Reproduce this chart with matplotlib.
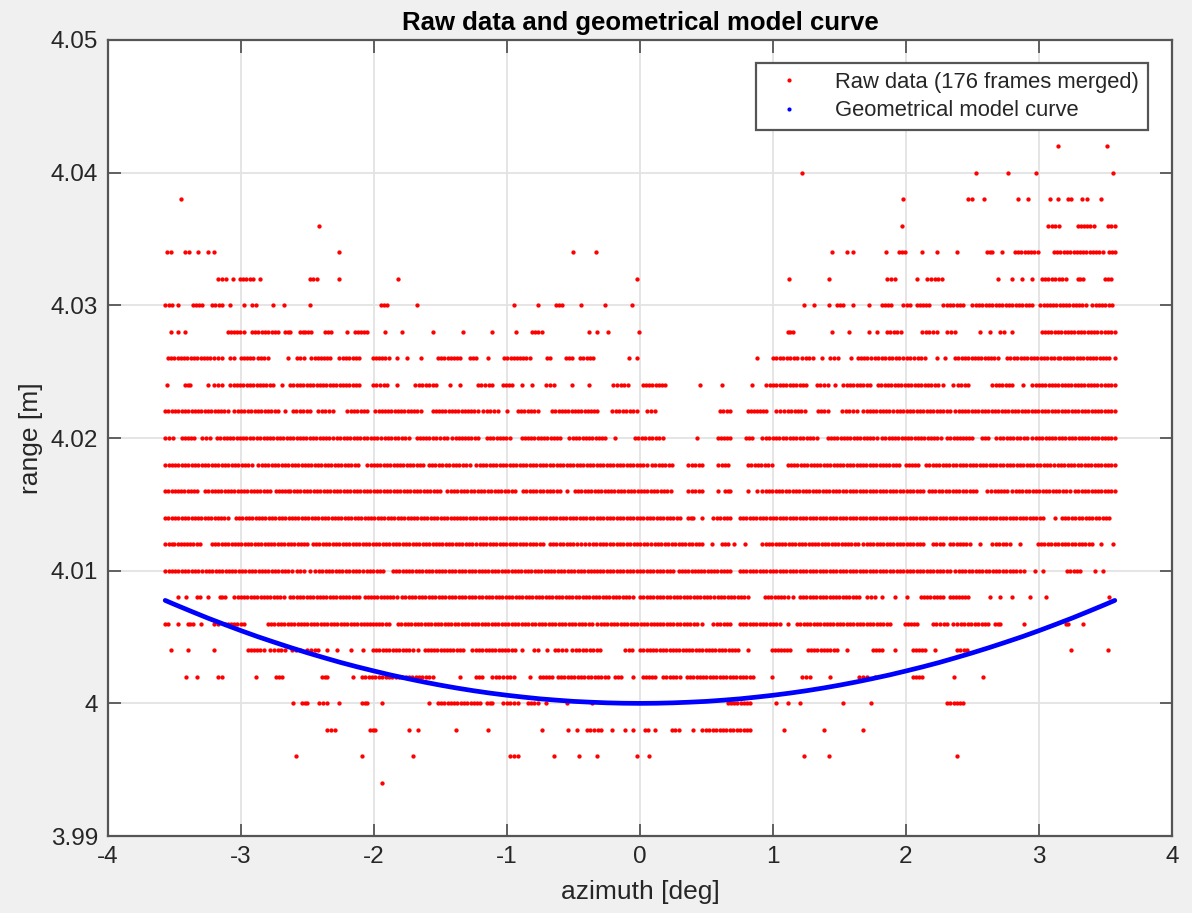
import numpy as np
import matplotlib
matplotlib.use("Agg")
import matplotlib.pyplot as plt
from matplotlib.lines import Line2D
from matplotlib.ticker import FuncFormatter

# range levels of the merged scans [m]
range_levels = [3.994, 3.996, 3.998, 4.000, 4.002, 4.004, 4.006, 4.008, 4.010,
                4.012, 4.014, 4.016, 4.018, 4.020, 4.022, 4.024, 4.026, 4.028,
                4.030, 4.032, 4.034, 4.036, 4.038, 4.040, 4.042]

# azimuth runs [deg] holding returns on each range level; [a, a] is a single return
r3994 = [[-1.94, -1.94]]
r3996 = [[-2.59, -2.59], [-2.09, -2.09], [-1.71, -1.71], [-0.98, -0.92], [-0.65, -0.65],
         [-0.46, -0.46], [-0.32, -0.32], [-0.02, -0.02], [0.07, 0.07], [1.23, 1.23],
         [1.42, 1.42], [2.38, 2.38]]
r3998 = [[-2.35, -2.29], [-2.03, -1.99], [-1.74, -1.74], [-1.67, -1.67], [-1.38, -1.38],
         [-1.14, -1.14], [-0.74, -0.74], [-0.54, -0.54], [-0.47, -0.47], [-0.40, -0.29],
         [-0.21, -0.21], [-0.11, -0.11], [-0.05, -0.05], [0.04, 0.06], [0.11, 0.11],
         [0.24, 0.29], [0.40, 0.40], [0.47, 0.83], [1.08, 1.08], [1.38, 1.38], [1.68, 1.68]]
r4000 = [[-2.61, -2.61], [-2.54, -2.50], [-2.41, -2.35], [-2.26, -2.26], [-2.09, -2.05],
         [-1.94, -1.94], [-1.59, -1.59], [-1.52, -1.20], [-1.15, -1.11], [-1.03, -0.92],
         [-0.84, -0.77], [-0.71, -0.71], [-0.55, -0.55], [-0.36, -0.36], [0.66, 0.83],
         [1.02, 1.02], [1.11, 1.11], [1.20, 1.20], [1.53, 1.53], [1.74, 1.74], [2.31, 2.43]]
r4002 = [[-3.41, -3.41], [-3.33, -3.33], [-3.17, -3.14], [-2.89, -2.89], [-2.74, -2.69],
         [-2.39, -2.35], [-2.16, -2.16], [-2.09, -1.56], [-1.35, -1.35], [-1.23, -1.19],
         [-1.11, -0.95], [-0.83, -0.83], [-0.75, -0.66], [-0.62, -0.24], [-0.19, -0.14],
         [-0.05, -0.05], [0.02, 0.11], [0.17, 0.30], [0.35, 0.85], [0.99, 0.99],
         [1.22, 1.28], [1.43, 1.43], [1.65, 1.71], [1.77, 1.77], [2.05, 2.12],
         [2.36, 2.36], [2.58, 2.58]]
r4004 = [[-3.53, -3.53], [-3.40, -3.40], [-3.20, -3.20], [-2.95, -2.83], [-2.78, -2.67],
         [-2.62, -2.56], [-2.50, -2.42], [-2.35, -2.35], [-2.28, -2.28], [-2.17, -2.17],
         [-2.08, -2.08], [-2.01, -1.71], [-1.67, -1.67], [-1.62, -1.33], [-1.26, -0.94],
         [-0.89, -0.89], [-0.80, -0.77], [-0.70, -0.70], [-0.64, -0.56], [-0.51, -0.30],
         [-0.11, -0.06], [0.00, 0.74], [0.81, 0.81], [0.99, 1.13], [1.26, 1.48],
         [1.56, 1.56], [1.75, 1.82], [1.92, 1.92], [2.05, 2.14], [2.22, 2.22],
         [2.38, 2.46], [3.24, 3.24], [3.52, 3.52]]
r4006 = [[-3.57, -3.55], [-3.47, -3.47], [-3.40, -3.36], [-3.30, -3.30], [-3.20, -3.17],
         [-3.12, -2.98], [-2.80, -2.05], [-2.03, -1.89], [-1.82, -0.36], [-0.32, 0.13],
         [0.15, 0.43], [0.47, 0.47], [0.55, 0.68], [0.75, 1.05], [1.11, 1.11],
         [1.18, 1.88], [1.99, 2.08], [2.20, 2.31], [2.35, 2.41], [2.44, 2.62],
         [2.67, 2.71], [2.89, 2.89], [3.20, 3.22], [3.33, 3.33]]
r4008 = [[-3.47, -3.47], [-3.41, -3.41], [-3.33, -3.31], [-3.25, -3.25], [-3.16, -3.12],
         [-3.05, -2.68], [-2.63, -2.11], [-2.07, -1.83], [-1.79, -0.08], [-0.05, -0.05],
         [0.00, 0.53], [0.56, 0.81], [0.94, 1.11], [1.15, 1.15], [1.20, 1.65],
         [1.71, 1.77], [1.82, 1.82], [1.92, 1.92], [2.01, 2.01], [2.11, 2.28],
         [2.33, 2.47], [2.63, 2.63], [2.71, 2.71], [2.80, 2.80], [2.93, 2.93],
         [3.05, 3.05], [3.53, 3.53]]
r4010 = [[-3.57, -3.32], [-3.29, -2.62], [-2.58, -2.53], [-2.48, -2.48], [-2.44, -2.11],
         [-2.08, -1.93], [-1.86, -0.32], [-0.30, 0.25], [0.29, 0.68], [0.75, 2.33],
         [2.37, 2.83], [2.86, 2.89], [2.97, 2.97], [3.03, 3.03], [3.21, 3.31],
         [3.42, 3.42], [3.48, 3.48]]
r4012 = [[-3.57, -3.52], [-3.50, -3.31], [-3.22, -2.50], [-2.46, -1.26], [-1.23, -0.73],
         [-0.68, -0.50], [-0.47, -0.41], [-0.38, 0.08], [0.11, 0.47], [0.54, 0.54],
         [0.62, 0.66], [0.71, 0.71], [0.79, 0.79], [0.92, 1.64], [1.68, 2.13],
         [2.20, 2.28], [2.33, 2.48], [2.56, 2.56], [2.65, 2.78], [2.86, 2.86],
         [2.99, 3.40], [3.47, 3.47], [3.56, 3.56]]
r4014 = [[-3.57, -3.10], [-3.04, -1.35], [-1.33, 0.30], [0.36, 0.40], [0.47, 0.47],
         [0.55, 0.68], [0.75, 3.03], [3.12, 3.12], [3.17, 3.53]]
r4016 = [[-3.57, -3.33], [-3.27, -2.78], [-2.74, -2.65], [-2.63, -1.50], [-1.45, -0.94],
         [-0.88, -0.60], [-0.55, -0.55], [-0.49, 0.23], [0.36, 0.47], [0.59, 0.59],
         [0.64, 0.68], [0.81, 0.81], [0.88, 0.88], [0.92, 2.13], [2.17, 2.53],
         [2.61, 2.67], [2.69, 2.76], [2.80, 3.23], [3.27, 3.57]]
r4018 = [[-3.57, -2.92], [-2.87, -2.12], [-2.05, -1.63], [-1.59, -1.28], [-1.23, 0.05],
         [0.09, 0.24], [0.36, 0.47], [0.59, 0.66], [0.81, 0.99], [1.11, 1.95],
         [2.00, 2.09], [2.15, 3.11], [3.14, 3.57]]
r4020 = [[-3.57, -3.51], [-3.44, -3.35], [-3.29, -3.23], [-3.18, -2.91], [-2.88, -2.31],
         [-2.28, -1.95], [-1.92, -1.74], [-1.68, -1.56], [-1.53, -1.45], [-1.41, -1.22],
         [-1.15, -0.98], [-0.89, -0.60], [-0.53, -0.26], [-0.19, -0.19], [-0.04, 0.17],
         [0.43, 0.43], [0.59, 0.68], [0.80, 0.84], [0.92, 1.33], [1.41, 1.78],
         [1.82, 2.26], [2.31, 2.50], [2.57, 2.62], [2.68, 2.91], [2.95, 3.57]]
r4022 = [[-3.57, -3.10], [-3.05, -2.72], [-2.67, -2.67], [-2.61, -2.48], [-2.42, -2.31],
         [-2.20, -2.05], [-1.99, -1.65], [-1.56, -1.22], [-1.18, -1.07], [-1.00, -1.00],
         [-0.92, -0.77], [-0.66, -0.32], [-0.21, -0.05], [-0.02, -0.02], [0.05, 0.11],
         [0.60, 0.68], [0.81, 0.95], [1.02, 1.08], [1.11, 1.24], [1.34, 1.41],
         [1.52, 1.63], [1.68, 1.90], [1.93, 2.33], [2.37, 3.57]]
r4024 = [[-3.56, -3.56], [-3.42, -3.38], [-3.25, -3.25], [-3.20, -3.14], [-3.08, -2.76],
         [-2.69, -2.69], [-2.63, -2.11], [-2.01, -1.90], [-1.83, -1.83], [-1.69, -1.53],
         [-1.43, -1.43], [-1.35, -1.35], [-1.22, -1.11], [-1.03, -0.96], [-0.89, -0.89],
         [-0.81, -0.81], [-0.71, -0.65], [-0.51, -0.51], [-0.38, -0.38], [-0.20, -0.09],
         [0.02, 0.19], [0.45, 0.45], [0.62, 0.62], [0.84, 0.84], [0.95, 1.25],
         [1.33, 1.41], [1.47, 1.47], [1.53, 1.73], [1.79, 2.24], [2.28, 2.28],
         [2.35, 2.35], [2.39, 2.47], [2.65, 2.80], [2.88, 2.88], [2.95, 3.44], [3.47, 3.57]]
r4026 = [[-3.55, -3.23], [-3.20, -3.14], [-3.08, -3.05], [-3.00, -2.91], [-2.87, -2.80],
         [-2.65, -2.65], [-2.58, -2.53], [-2.47, -2.33], [-2.26, -2.11], [-2.01, -1.89],
         [-1.83, -1.83], [-1.75, -1.75], [-1.65, -1.65], [-1.52, -1.35], [-1.28, -1.23],
         [-1.14, -1.14], [-1.02, -0.83], [-0.70, -0.68], [-0.56, -0.51], [-0.45, -0.35],
         [-0.08, -0.08], [-0.02, -0.02], [0.88, 0.88], [1.00, 1.18], [1.22, 1.30],
         [1.37, 1.37], [1.43, 1.49], [1.59, 1.59], [1.64, 1.71], [1.74, 1.95],
         [1.98, 2.14], [2.23, 2.23], [2.29, 2.29], [2.37, 2.69], [2.76, 3.14],
         [3.16, 3.53], [3.57, 3.57]]
r4028 = [[-3.53, -3.53], [-3.47, -3.47], [-3.42, -3.42], [-3.10, -2.98], [-2.92, -2.72],
         [-2.67, -2.63], [-2.56, -2.47], [-2.37, -2.32], [-2.20, -2.20], [-2.14, -2.05],
         [-1.92, -1.92], [-1.79, -1.79], [-1.56, -1.56], [-1.33, -1.33], [-1.11, -1.11],
         [-0.93, -0.93], [-0.81, -0.74], [-0.38, -0.38], [-0.32, -0.32], [-0.24, -0.24],
         [-0.01, -0.01], [1.11, 1.15], [1.44, 1.44], [1.57, 1.57], [1.72, 1.72],
         [1.78, 1.78], [1.86, 1.93], [1.96, 1.96], [2.12, 2.23], [2.31, 2.37],
         [2.56, 2.56], [2.63, 2.63], [2.71, 2.74], [2.80, 2.80], [3.02, 3.44], [3.47, 3.57]]
r4030 = [[-3.57, -3.52], [-3.47, -3.47], [-3.36, -3.29], [-3.22, -3.14], [-3.08, -3.08],
         [-2.98, -2.98], [-2.92, -2.89], [-2.76, -2.76], [-2.68, -2.68], [-2.48, -2.48],
         [-1.95, -1.90], [-1.68, -1.68], [-0.95, -0.95], [-0.77, -0.77], [-0.63, -0.59],
         [-0.44, -0.44], [-0.26, -0.26], [-0.06, -0.06], [1.23, 1.23], [1.31, 1.31],
         [1.42, 1.42], [1.48, 1.53], [1.60, 1.60], [1.72, 1.72], [1.82, 1.89],
         [1.98, 2.03], [2.08, 2.17], [2.28, 2.43], [2.50, 2.95], [3.01, 3.35], [3.40, 3.55]]
r4032 = [[-3.17, -3.14], [-3.11, -3.11], [-3.06, -3.06], [-3.01, -2.91], [-2.86, -2.86],
         [-2.48, -2.43], [-2.26, -2.26], [-1.82, -1.82], [-0.02, -0.02], [1.12, 1.12],
         [1.42, 1.42], [1.86, 1.92], [2.08, 2.08], [2.16, 2.27], [2.69, 2.69],
         [2.80, 2.80], [2.87, 2.87], [2.95, 2.95], [3.02, 3.20], [3.29, 3.33], [3.50, 3.54]]
r4034 = [[-3.56, -3.53], [-3.42, -3.39], [-3.32, -3.32], [-3.25, -3.25], [-3.20, -3.20],
         [-2.26, -2.26], [-0.50, -0.50], [-0.33, -0.33], [1.44, 1.44], [1.56, 1.56],
         [1.60, 1.60], [1.85, 1.85], [1.95, 1.99], [2.12, 2.12], [2.23, 2.23],
         [2.38, 2.38], [2.61, 2.65], [2.72, 2.72], [2.82, 2.99], [3.11, 3.31],
         [3.33, 3.48], [3.53, 3.57]]
r4036 = [[-2.41, -2.41], [1.97, 1.97], [3.07, 3.15], [3.29, 3.41], [3.52, 3.57]]
r4038 = [[-3.45, -3.45], [1.98, 1.98], [2.47, 2.50], [2.59, 2.59], [2.84, 2.84],
         [2.92, 2.92], [3.08, 3.08], [3.14, 3.14], [3.22, 3.24], [3.32, 3.32],
         [3.36, 3.36], [3.47, 3.47]]
r4040 = [[1.22, 1.22], [2.53, 2.53], [2.77, 2.77], [2.98, 2.98], [3.56, 3.56]]
r4042 = [[3.14, 3.14], [3.51, 3.51]]

row_runs = [r3994, r3996, r3998, r4000, r4002, r4004, r4006, r4008, r4010,
            r4012, r4014, r4016, r4018, r4020, r4022, r4024, r4026, r4028,
            r4030, r4032, r4034, r4036, r4038, r4040, r4042]

# geometrical model curve (wall at 4 m), symmetric about 0 deg
model_az_half = [0.0, 0.125, 0.25, 0.375, 0.5, 0.625, 0.75, 0.875, 1.0, 1.125, 1.25,
                 1.375, 1.5, 1.625, 1.75, 1.875, 2.0, 2.125, 2.25, 2.375, 2.5, 2.625,
                 2.75, 2.875, 3.0, 3.125, 3.25, 3.375, 3.5, 3.57]
model_range_half = [4.0, 4.00001, 4.00004, 4.00009, 4.00015, 4.00024, 4.00034, 4.00047,
                    4.00061, 4.00077, 4.00095, 4.00115, 4.00137, 4.00161, 4.00187,
                    4.00214, 4.00244, 4.00275, 4.00308, 4.00344, 4.00381, 4.0042,
                    4.00461, 4.00503, 4.00548, 4.00595, 4.00643, 4.00694, 4.00746,
                    4.00776]

AZ_STEP = 0.025  # spacing of returns inside a run [deg]

az_pts, rng_pts = [], []
for lvl, runs in zip(range_levels, row_runs):
    for a0, a1 in runs:
        n = int(round((a1 - a0) / AZ_STEP)) + 1
        a = np.linspace(a0, a1, n) if n > 1 else np.array([a0])
        az_pts.append(a)
        rng_pts.append(np.full(a.size, lvl))
az_pts = np.concatenate(az_pts)
rng_pts = np.concatenate(rng_pts)

half_az = np.array(model_az_half)
half_rng = np.array(model_range_half)
model_az = np.concatenate([-half_az[:0:-1], half_az])
model_range = np.concatenate([half_rng[:0:-1], half_rng])

plt.rcParams['font.family'] = ['Liberation Sans', 'DejaVu Sans']
ink = '#262626'
frame = '#555555'

fig = plt.figure(figsize=(11.92, 9.13), dpi=100, facecolor='#f0f0f0')
ax = fig.add_axes([0.0906, 0.0843, 0.8926, 0.8719])
ax.set_facecolor('white')

ax.plot(az_pts, rng_pts, linestyle='none', marker='o', markersize=3.1,
        markeredgewidth=0, color='#ff0000', zorder=3)
ax.plot(model_az, model_range, color='#0000ff', linewidth=3.4,
        solid_capstyle='round', solid_joinstyle='round', zorder=4)

ax.set_xlim(-4, 4)
ax.set_ylim(3.99, 4.05)
ax.set_xticks(np.arange(-4, 5, 1))
ax.set_yticks(np.round(np.arange(3.99, 4.0501, 0.01), 2))
ax.yaxis.set_major_formatter(FuncFormatter(lambda v, p: f"{round(v, 2):g}"))
ax.xaxis.set_major_formatter(FuncFormatter(lambda v, p: f"{int(round(v))}"))

ax.grid(True, color='#e3e3e3', linewidth=1.3, zorder=0)
ax.set_axisbelow(True)
ax.tick_params(direction='in', length=9, width=1.3, colors=frame,
               labelcolor=ink, labelsize=17.5, top=True, right=True, pad=7)
for s in ax.spines.values():
    s.set_color(frame)
    s.set_linewidth(1.6)

ax.set_title('Raw data and geometrical model curve', fontsize=18.5,
             fontweight='bold', color='black', pad=7)
ax.set_xlabel('azimuth [deg]', fontsize=19, color=ink, labelpad=9)
ax.set_ylabel('range [m]', fontsize=19, color=ink, labelpad=6)

handles = [Line2D([], [], linestyle='none', marker='o', markersize=3,
                  markeredgewidth=0, color='#ff0000'),
           Line2D([], [], linestyle='none', marker='o', markersize=3,
                  markeredgewidth=0, color='#0000ff')]
leg = ax.legend(handles, ['Raw data (176 frames merged)', 'Geometrical model curve'],
                loc='upper right', bbox_to_anchor=(0.9774, 0.9711), borderaxespad=0,
                fontsize=15.8, fancybox=False, framealpha=1, edgecolor=frame,
                handlelength=2.2, handletextpad=1.0, borderpad=0.4,
                labelspacing=0.35)
leg.get_frame().set_linewidth(1.6)
for t in leg.get_texts():
    t.set_color(ink)

fig.savefig('out.png', dpi=100, facecolor=fig.get_facecolor())
